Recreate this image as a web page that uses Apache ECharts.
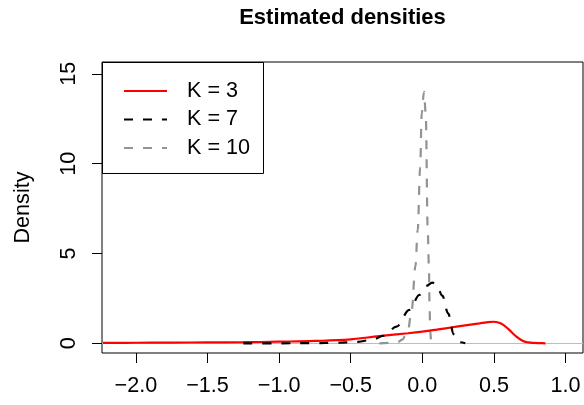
<!DOCTYPE html>
<html>
<head>
<meta charset="utf-8">
<title>Estimated densities</title>
<script src="https://cdn.jsdelivr.net/npm/echarts@6/dist/echarts.min.js"></script>
<style>
  html, body { margin: 0; padding: 0; background: #fff; }
  #chart { width: 584px; height: 405px; }
</style>
</head>
<body>
<div id="chart"></div>
<script>
// Kernel density estimates for three choices of K
const seriesNames = ['K = 3', 'K = 7', 'K = 10'];

const k3X = [-2.23, -2.0, -1.75, -1.5, -1.25, -1.0, -0.75, -0.5, -0.3, -0.1, 0.0, 0.1, 0.2, 0.3, 0.4, 0.45, 0.5, 0.55, 0.6, 0.65, 0.7, 0.74, 0.78, 0.82, 0.86];
const k3Y = [0.02, 0.03, 0.04, 0.05, 0.06, 0.09, 0.13, 0.22, 0.40, 0.56, 0.65, 0.76, 0.88, 1.0, 1.11, 1.17, 1.2, 1.1, 0.8, 0.42, 0.14, 0.05, 0.02, 0.01, 0.0];

const k7X = [-1.25, -1.0, -0.75, -0.6, -0.45, -0.35, -0.27, -0.18, -0.09, -0.02, 0.03, 0.07, 0.1, 0.14, 0.18, 0.22, 0.26, 0.3];
const k7Y = [0.0, 0.0, 0.01, 0.03, 0.08, 0.2, 0.42, 0.93, 1.86, 2.7, 3.2, 3.38, 3.25, 2.65, 1.67, 0.5, 0.06, 0.0];

const k10X = [-0.3, -0.22, -0.17, -0.14, -0.1, -0.074, -0.048, -0.032, -0.015, -0.004, 0.012, 0.024, 0.038, 0.046, 0.051, 0.055, 0.062, 0.075];
const k10Y = [0.0, 0.02, 0.08, 0.2, 0.74, 1.86, 4.3, 6.3, 9.8, 12.8, 14.0, 12.8, 6.3, 4.3, 2.0, 0.7, 0.1, 0.0];

const xTicks = [-2.0, -1.5, -1.0, -0.5, 0.0, 0.5, 1.0];
const yTicks = [0, 5, 10, 15];

const FONT = 'Liberation Sans, Arial, Helvetica, sans-serif';
const FS = 21.6;

function pairs(xs, ys) {
  return xs.map((x, i) => [x, ys[i]]);
}
function fmtX(v) {
  const s = Math.abs(v).toFixed(1);
  return v < 0 ? '\u2212' + s : s;
}

const chart = echarts.init(document.getElementById('chart'), null, { renderer: 'canvas' });

const lineBase = {
  type: 'line',
  symbol: 'none',
  showSymbol: false,
  smooth: 0.35,
  smoothMonotone: 'x',
  clip: true,
  animation: false
};

chart.setOption({
  animation: false,
  backgroundColor: '#ffffff',
  textStyle: { fontFamily: FONT },
  grid: {
    left: 102, top: 62, width: 481, height: 291,
    show: true, borderColor: '#000', borderWidth: 1, backgroundColor: 'transparent',
    containLabel: false
  },
  xAxis: {
    type: 'value',
    min: -2.2367, max: 1.1222,
    axisLine: { show: false, onZero: false },
    splitLine: { show: false },
    axisTick: { show: true, length: 10, lineStyle: { color: '#000', width: 1 }, customValues: xTicks },
    axisLabel: {
      show: true, margin: 22, color: '#000', fontSize: FS, fontFamily: FONT,
      customValues: xTicks, formatter: fmtX
    }
  },
  yAxis: {
    type: 'value',
    min: -0.540, max: 15.66,
    name: 'Density',
    nameLocation: 'middle',
    nameGap: 68,
    nameRotate: 90,
    nameTextStyle: { color: '#000', fontSize: FS, fontFamily: FONT },
    axisLine: { show: false, onZero: false },
    splitLine: { show: false },
    axisTick: { show: true, length: 10, lineStyle: { color: '#000', width: 1 }, customValues: yTicks },
    axisLabel: {
      show: true, margin: 22, rotate: 90, color: '#000', fontSize: FS, fontFamily: FONT,
      customValues: yTicks, formatter: v => String(v)
    }
  },
  legend: {
    data: seriesNames,
    orient: 'vertical',
    left: 123, top: 80,
    padding: 0,
    itemWidth: 43, itemHeight: 14, itemGap: 6.5,
    itemStyle: { opacity: 0 },
    textStyle: { color: '#000', fontSize: FS, fontFamily: FONT, lineHeight: 22, padding: [0, 0, 0, 15] },
    selectedMode: false
  },
  graphic: [
    {
      type: 'text', x: 342.5, y: 18,
      style: {
        text: 'Estimated densities', fill: '#000',
        font: 'bold 22px ' + FONT, textAlign: 'center', textVerticalAlign: 'middle'
      }
    },
    {
      type: 'rect', z: 1,
      shape: { x: 102.5, y: 62.5, width: 161, height: 111 },
      style: { fill: 'transparent', stroke: '#000', lineWidth: 1 }
    }
  ],
  series: [
    Object.assign({}, lineBase, {
      name: seriesNames[0],
      data: pairs(k3X, k3Y),
      z: 3,
      smooth: 0.4,
      smoothMonotone: null,
      lineStyle: { color: '#ff0000', width: 2.2, type: 'solid' },
      itemStyle: { color: '#ff0000' },
      markLine: {
        silent: true, symbol: 'none', animation: false, z: 1,
        label: { show: false },
        lineStyle: { color: '#bebebe', width: 1, type: 'solid' },
        data: [{ yAxis: 0 }]
      }
    }),
    Object.assign({}, lineBase, {
      name: seriesNames[1],
      data: pairs(k7X, k7Y),
      z: 4,
      lineStyle: { color: '#000000', width: 2.2, type: [9, 10], cap: 'butt' },
      itemStyle: { color: '#000000' }
    }),
    Object.assign({}, lineBase, {
      name: seriesNames[2],
      data: pairs(k10X, k10Y),
      z: 2,
      lineStyle: { color: '#8f9494', width: 2.2, type: [9, 10], cap: 'butt' },
      itemStyle: { color: '#8f9494' }
    })
  ]
});
</script>
</body>
</html>
